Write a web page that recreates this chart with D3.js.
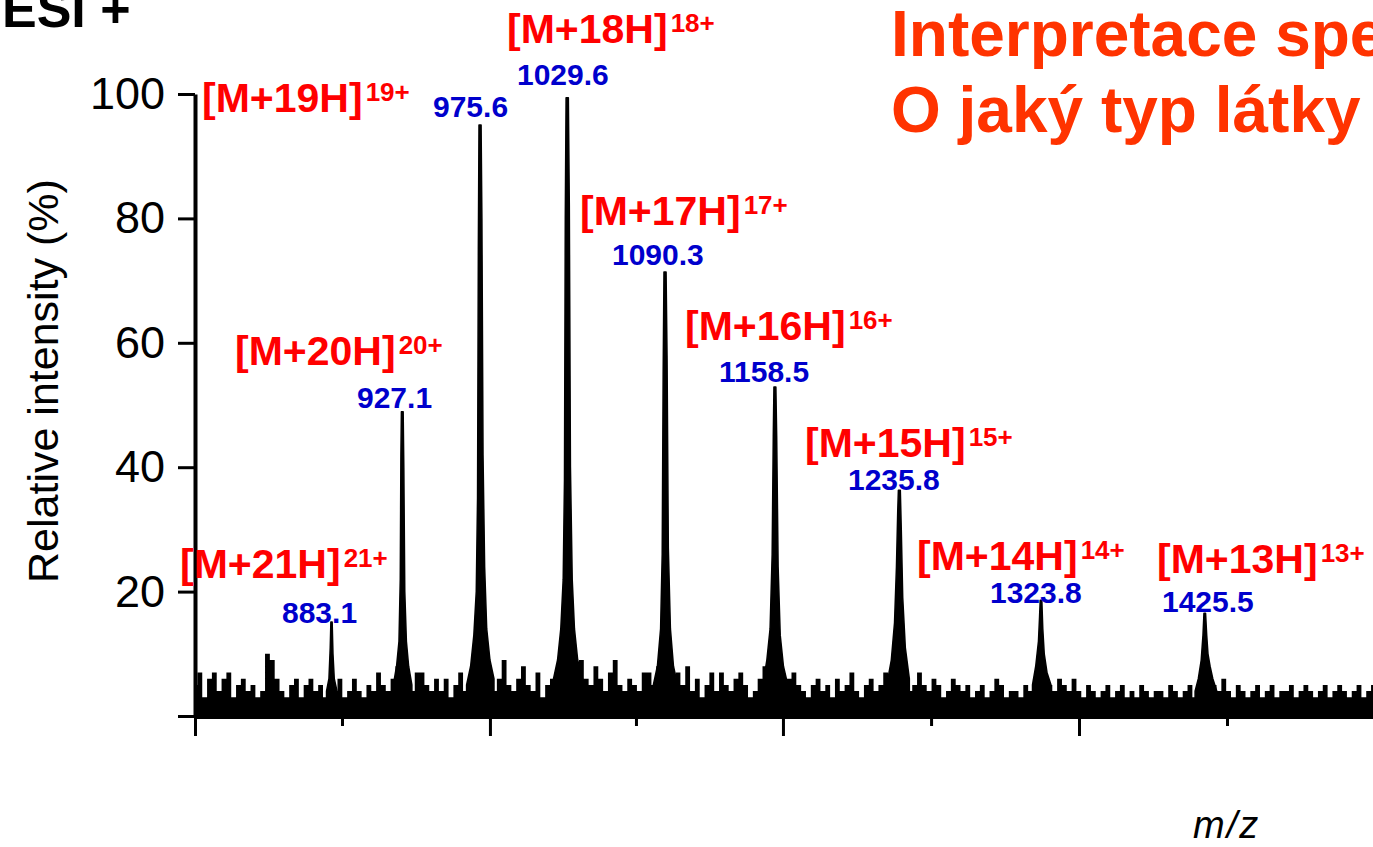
<!DOCTYPE html>
<html>
<head>
<meta charset="utf-8">
<script src="https://cdn.jsdelivr.net/npm/d3@7"></script>
<style>
  html, body { margin: 0; padding: 0; background: #fff; }
  svg { display: block; }
</style>
</head>
<body>
<svg id="chart" width="1373" height="847"></svg>
<script>
// peak annotations (ion, charge, m/z)
const ions = ["[M+21H]", "[M+20H]", "[M+19H]", "[M+18H]", "[M+17H]", "[M+16H]", "[M+15H]", "[M+14H]", "[M+13H]"];
const charges = ["21+", "20+", "19+", "18+", "17+", "16+", "15+", "14+", "13+"];
const peakMz = [883.1, 927.1, 975.6, 1029.6, 1090.3, 1158.5, 1235.8, 1323.8, 1425.5];

// peak traces [m/z, relative intensity %]
const peakTraces = [
  [[880, 4], [881.5, 6], [882.3, 11], [882.7, 15.1], [883.5, 15.1], [884, 10], [884.8, 6], [886.5, 4]],
  [[921.5, 5], [923.5, 8], [925, 12], [925.8, 22], [926.2, 42], [926.5, 48.9], [927.6, 48.9], [928, 40], [928.6, 20], [929.6, 12], [931, 8], [933, 5]],
  [[967, 5], [969.5, 8], [971.5, 13], [973, 20], [973.8, 35], [974.3, 75], [974.7, 95], [976, 95], [976.5, 80], [977.2, 42], [978.2, 24], [979.5, 14], [981.5, 9], [984, 6]],
  [[1021, 6], [1023.5, 9], [1025.5, 14], [1027, 22], [1027.8, 38], [1028.3, 80], [1028.8, 99.4], [1030.2, 99.4], [1030.8, 82], [1031.5, 40], [1032.6, 22], [1034, 14], [1036, 9], [1039, 6]],
  [[1083, 5], [1085.5, 8], [1087.5, 14], [1088.5, 26], [1089.1, 55], [1089.6, 71.4], [1090.9, 71.4], [1091.5, 58], [1092.3, 27], [1093.6, 14], [1095.5, 8], [1098, 5]],
  [[1151, 5], [1153.5, 9], [1155.5, 14], [1156.8, 26], [1157.5, 45], [1157.9, 52.9], [1159.1, 52.9], [1159.6, 45], [1160.5, 24], [1161.8, 13], [1163.8, 8], [1166.5, 5]],
  [[1228, 5], [1230.8, 9], [1232.8, 15], [1234, 24], [1234.8, 33], [1235.2, 36.3], [1236.4, 36.3], [1237, 30], [1237.9, 19], [1239.5, 11], [1242, 6]],
  [[1318.5, 5], [1320.5, 8], [1322.2, 12], [1322.9, 16], [1323.3, 18.6], [1324.3, 18.6], [1324.9, 14], [1325.8, 10], [1327.5, 7], [1330, 5]],
  [[1419.5, 4], [1421.5, 6], [1423.3, 9], [1424.4, 13], [1425, 16.5], [1426, 16.5], [1426.7, 13], [1427.5, 10], [1428.8, 8], [1430.5, 6], [1433, 4]]
];

// baseline noise, sampled every 3 m/z from 798.3
const noiseStart = 798.3;
const noiseStep = 3;
const noise = [
  5, 7, 3, 6, 7, 4, 6, 7, 3, 5,
  6, 4, 5, 3, 4, 10, 9, 6, 4, 3,
  5, 6, 3, 5, 6, 4, 5, 3, 4, 4,
  6, 3, 4, 6, 4, 3, 5, 4, 7, 5,
  4, 6, 8, 7, 5, 4, 7, 7, 5, 4,
  6, 4, 6, 3, 5, 7, 4, 5, 6, 8,
  8, 5, 4, 6, 9, 5, 4, 6, 8, 5,
  4, 7, 3, 5, 6, 7, 9, 6, 5, 7,
  9, 6, 5, 8, 6, 4, 7, 9, 5, 4,
  6, 5, 4, 7, 7, 5, 8, 6, 4, 5,
  7, 5, 8, 4, 6, 3, 5, 7, 4, 7,
  5, 4, 6, 7, 5, 3, 4, 6, 8, 7,
  6, 5, 4, 6, 7, 5, 4, 3, 5, 6,
  4, 5, 3, 6, 4, 5, 7, 4, 3, 5,
  6, 4, 5, 7, 6, 4, 5, 7, 4, 5,
  7, 5, 4, 6, 5, 3, 4, 6, 5, 4,
  5, 3, 4, 5, 3, 4, 6, 5, 3, 4,
  4, 3, 5, 4, 6, 3, 7, 5, 4, 6,
  5, 4, 6, 4, 3, 5, 4, 3, 4, 5,
  3, 4, 5, 3, 4, 3, 5, 4, 3, 4,
  4, 3, 5, 4, 3, 4, 5, 3, 4, 6,
  7, 5, 4, 6, 4, 3, 5, 4, 3, 4,
  5, 3, 4, 5, 3, 4, 4, 5, 3, 4,
  5, 4, 3, 4, 5, 3, 4, 5, 4, 3,
  4, 5, 3, 4, 5
];

const yTicks = [0, 20, 40, 60, 80, 100];
const xTicks = [798.3, 889.6, 981.5, 1072.2, 1163.5, 1255.5, 1347.4, 1439.3];

// label placement (left x, baseline y) of the red ion labels and the blue m/z labels
const ionPos = [[180, 578], [235, 365], [202, 112], [507, 43], [580, 225], [685, 340], [805, 457], [917, 570], [1157, 573]];
const mzPos = [[282, 623], [357, 408], [433, 117], [517, 85], [612, 265], [719, 382], [848, 490], [990, 603], [1162, 612]];

const svg = d3.select("#chart");
const width = 1373, height = 847;
const font = "'Liberation Sans', Arial, sans-serif";

svg.append("rect").attr("width", width).attr("height", height).attr("fill", "#fff");

const x = d3.scaleLinear().domain([798.3, 1530]).range([195, 1373]);
const y = d3.scaleLinear().domain([0, 100]).range([716, 94]);

const g = svg.append("g");

// noise as a step area
const noisePts = noise.map((v, i) => [noiseStart + i * noiseStep, v]);
const area = d3.area()
  .x(d => x(d[0]))
  .y0(y(0))
  .y1(d => y(d[1]))
  .curve(d3.curveStep);

g.append("path")
  .datum(noisePts)
  .attr("d", area)
  .attr("fill", "#000");

const peakArea = d3.area()
  .x(d => x(d[0]))
  .y0(y(0))
  .y1(d => y(d[1]));

g.selectAll(".peak")
  .data(peakTraces)
  .enter()
  .append("path")
  .attr("class", "peak")
  .attr("d", peakArea)
  .attr("fill", "#000")
  .attr("stroke", "#000")
  .attr("stroke-width", 1.5)
  .attr("stroke-linejoin", "round");

// axes
const xAxis = g.append("g")
  .attr("transform", `translate(0,${y(0)})`)
  .call(d3.axisBottom(x).tickValues(xTicks).tickSize(0).tickSizeOuter(0).tickFormat(""));
xAxis.select(".domain").attr("stroke-width", 5).attr("stroke", "#000");
xAxis.selectAll(".tick line")
  .attr("y2", (d, i) => i % 2 === 0 ? 20 : 10)
  .attr("stroke-width", 3)
  .attr("stroke", "#000");

const yAxis = g.append("g")
  .attr("transform", `translate(${x(798.3)},0)`)
  .call(d3.axisLeft(y).tickValues(yTicks).tickSize(17).tickSizeOuter(0).tickPadding(13)
    .tickFormat(d => d === 0 ? "" : d));
yAxis.select(".domain").attr("stroke-width", 4).attr("stroke", "#000");
yAxis.selectAll(".tick line").attr("stroke-width", 3).attr("stroke", "#000");
yAxis.selectAll(".tick text")
  .attr("font-family", font)
  .attr("font-size", "45px")
  .attr("fill", "#000");

svg.append("text")
  .attr("transform", "translate(58,381) rotate(-90)")
  .attr("text-anchor", "middle")
  .attr("font-family", font)
  .attr("font-size", "43px")
  .attr("fill", "#000")
  .text("Relative intensity (%)");

svg.append("text")
  .attr("x", 1193)
  .attr("y", 838)
  .attr("font-family", font)
  .attr("font-style", "italic")
  .attr("font-size", "38px")
  .attr("letter-spacing", "2px")
  .attr("fill", "#000")
  .text("m/z");

// ion labels
ions.forEach((ion, i) => {
  const t = svg.append("text")
    .attr("x", ionPos[i][0])
    .attr("y", ionPos[i][1])
    .attr("font-family", font)
    .attr("font-weight", "bold")
    .attr("font-size", "41px")
    .attr("fill", "#ff0000");
  t.append("tspan").text(ion);
  t.append("tspan")
    .attr("dx", 3)
    .attr("dy", -11)
    .attr("font-size", "26px")
    .text(charges[i]);
});

peakMz.forEach((mz, i) => {
  svg.append("text")
    .attr("x", mzPos[i][0])
    .attr("y", mzPos[i][1])
    .attr("font-family", font)
    .attr("font-weight", "bold")
    .attr("font-size", "30px")
    .attr("fill", "#0000cc")
    .text(mz.toFixed(1));
});

// headings
svg.append("text")
  .attr("x", 2)
  .attr("y", 27)
  .attr("font-family", font)
  .attr("font-weight", "bold")
  .attr("font-size", "52px")
  .attr("fill", "#000")
  .text("ESI +");

const title = svg.append("text")
  .attr("font-family", font)
  .attr("font-weight", "bold")
  .attr("font-size", "64px")
  .attr("fill", "#ff3300");
title.append("tspan").attr("x", 891).attr("y", 56).text("Interpretace spektra");
title.append("tspan").attr("x", 891).attr("y", 132).text("O jaký typ látky se jedná?");
</script>
</body>
</html>
